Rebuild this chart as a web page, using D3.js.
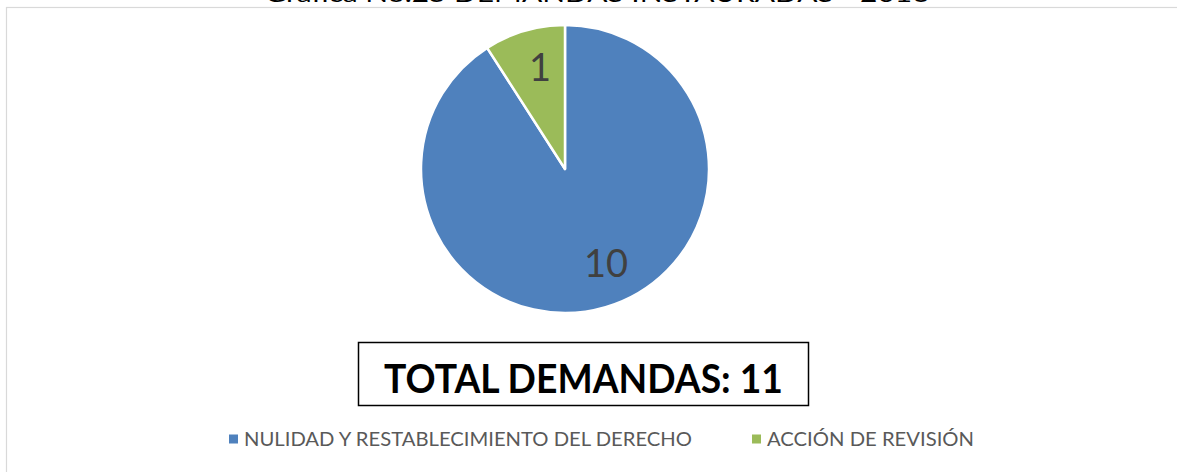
<!DOCTYPE html>
<html><head><meta charset="utf-8">
<script src="https://cdn.jsdelivr.net/npm/d3@7"></script>
<style>body{margin:0;background:#fff}svg{display:block}</style>
</head><body>
<svg id="c" width="1177" height="472"></svg>
<script>
const categories = ["NULIDAD Y RESTABLECIMIENTO DEL DERECHO", "ACCIÓN DE REVISIÓN"];
const values = [10, 1];
const colors = ["#4F81BD", "#9BBB59"];
const titleText = "Gráfica No.25 DEMANDAS INSTAURADAS - 2016";
const totalText = "TOTAL DEMANDAS: 11";

const svg = d3.select("#c");
const font = "Lato, 'Open Sans', 'Liberation Sans', sans-serif";

// chart border
svg.append("rect").attr("x", 6.5).attr("y", 7.5).attr("width", 1180).attr("height", 480)
  .attr("fill", "#fff").attr("stroke", "#d9d9d9").attr("stroke-width", 1.2);

// title (cut off at the top, as in the reference)
svg.append("text").attr("x", 597).attr("y", 1.5).attr("text-anchor", "middle")
  .attr("font-family", font).attr("font-size", 24).attr("fill", "#000")
  .attr("textLength", 665).attr("lengthAdjust", "spacingAndGlyphs").text(titleText);

const cx = 565, cy = 169, r = 144;
const pie = d3.pie().sort(null).value(d => d)(values);
const arc = d3.arc().innerRadius(0).outerRadius(r);
const g = svg.append("g").attr("transform", `translate(${cx},${cy})`);
g.selectAll("path").data(pie).join("path")
  .attr("d", arc).attr("fill", (d, i) => colors[i])
  .attr("stroke", "#fff").attr("stroke-width", 2.5).attr("stroke-linejoin", "round");

const labelPos = [[41, 108], [-25, -88]];
g.selectAll("text.lbl").data(pie).join("text").attr("class", "lbl")
  .attr("x", (d, i) => labelPos[i][0]).attr("y", (d, i) => labelPos[i][1])
  .attr("text-anchor", "middle").attr("font-family", font).attr("font-size", 38)
  .attr("fill", "#404040").text(d => d.data);

// total box
svg.append("rect").attr("x", 358.5).attr("y", 342.5).attr("width", 450).attr("height", 63)
  .attr("fill", "#fff").attr("stroke", "#000").attr("stroke-width", 1.5);
svg.append("text").attr("x", 583.5).attr("y", 393).attr("text-anchor", "middle")
  .attr("font-family", font).attr("font-weight", "bold").attr("font-size", 40)
  .attr("fill", "#000").attr("textLength", 399).attr("lengthAdjust", "spacingAndGlyphs")
  .text(totalText);

// legend
const legX = [229, 752], legW = [448, 207];
const lg = svg.selectAll("g.leg").data(categories).join("g").attr("class", "leg")
  .attr("transform", (d, i) => `translate(${legX[i]},439)`);
lg.append("rect").attr("x", 0).attr("y", -4.5).attr("width", 9).attr("height", 9)
  .attr("fill", (d, i) => colors[i]);
lg.append("text").attr("x", 15).attr("y", 7).attr("font-family", font).attr("font-size", 19)
  .attr("fill", "#595959").attr("textLength", (d, i) => legW[i])
  .attr("lengthAdjust", "spacingAndGlyphs").text(d => d);
</script>
</body></html>
